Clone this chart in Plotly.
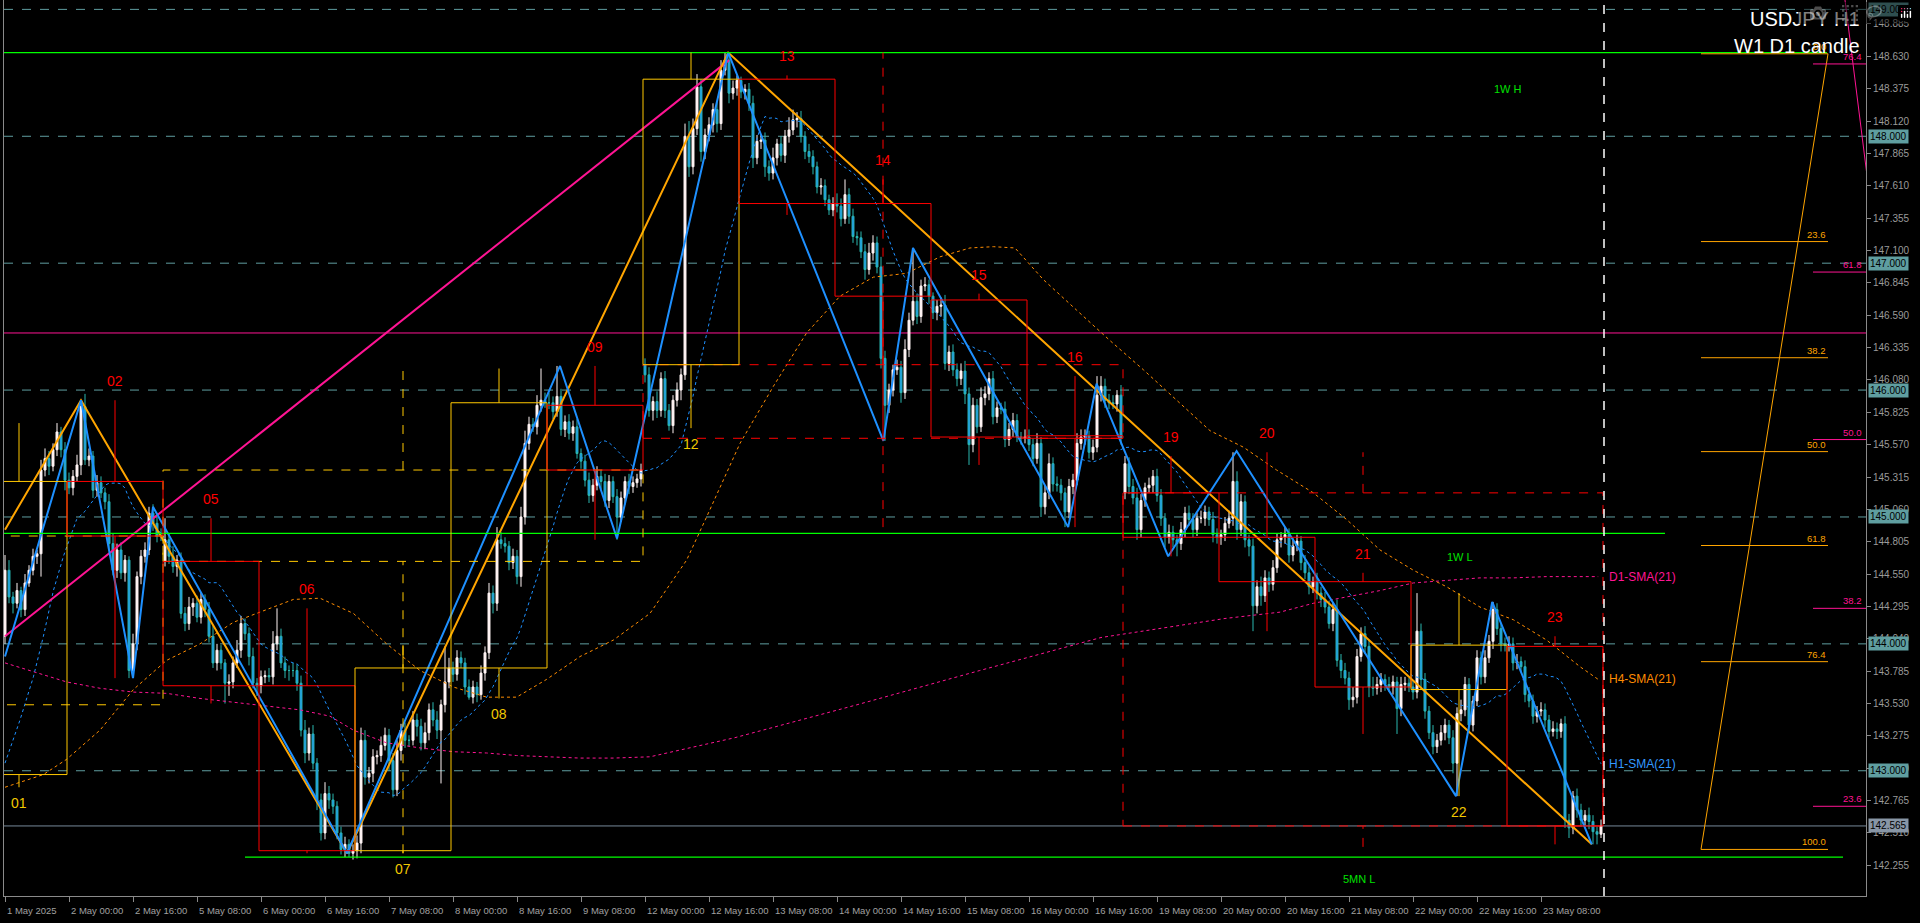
import plotly.graph_objects as go
import numpy as np
import pandas as pd

# ---------------- DATA ----------------
first_open = 144.06
week_gap_opens = {40: 144.65, 160: 146.20, 280: 145.19}

# hourly closes, one list per trading day (1 May starts at 08:00)
c_0501 = [144.58,144.37,144.32,144.42,144.27,144.48,144.58,144.69,144.71,145.37,145.46,145.40,145.53,145.67,145.53,145.29]
c_0502 = [145.23,145.32,145.41,145.87,145.45,145.48,145.21,145.27,145.19,145.12,144.79,144.58,144.74,144.56,144.66,143.79,144.00,144.53,144.69,144.74,145.03,144.95,144.85,144.85]
c_0505 = [144.82,144.69,144.61,144.66,144.24,144.16,144.29,144.32,144.21,144.35,144.27,144.06,143.85,143.95,143.85,143.69,143.70,143.85,143.95,144.16,144.08,143.90,143.69,143.67]
c_0506 = [143.74,143.75,143.74,144.00,144.06,143.85,143.79,143.79,143.79,143.69,143.32,143.14,143.29,143.06,142.77,142.51,142.82,142.77,142.72,142.51,142.38,142.42,142.35,142.37]
c_0507 = [142.43,143.24,142.95,142.98,143.11,143.12,143.20,143.28,143.08,142.85,143.16,143.32,143.24,143.24,143.40,143.35,143.22,143.30,143.48,143.40,143.32,143.52,143.70,143.81]
c_0508 = [143.76,143.89,143.85,143.66,143.58,143.66,143.60,143.77,143.93,144.40,144.32,144.82,144.79,144.77,144.64,144.69,144.53,145.00,145.58,145.73,145.71,145.88,145.92,145.90]
c_0509 = [145.90,145.83,145.95,145.69,145.75,145.66,145.71,145.50,145.44,145.29,145.17,145.25,145.32,145.28,145.13,145.28,145.16,145.00,145.15,145.28,145.24,145.27,145.30,145.37]
c_0512 = [146.12,145.84,145.91,145.84,146.09,145.84,145.72,145.92,146.00,146.12,148.00,147.76,148.06,148.39,147.88,148.01,148.09,148.21,148.10,148.52,148.60,148.34,148.38,148.44]
c_0513 = [148.35,148.37,148.26,147.83,147.96,147.97,147.76,147.71,147.83,147.94,147.85,148.00,148.05,148.13,148.14,148.00,147.88,147.84,147.76,147.60,147.61,147.50,147.42,147.47]
c_0514 = [147.45,147.35,147.54,147.37,147.21,147.20,147.09,146.95,147.08,147.16,146.97,146.25,145.88,146.00,146.16,146.18,145.98,146.32,146.55,146.70,146.58,146.82,146.83,146.74]
c_0515 = [146.61,146.66,146.67,146.21,146.30,146.16,146.09,146.15,145.97,145.57,145.88,145.71,145.94,145.97,146.09,145.79,145.86,145.85,145.61,145.69,145.76,145.63,145.62,145.63]
c_0516 = [145.57,145.46,145.58,145.08,145.19,145.42,145.26,145.25,145.19,145.04,145.24,145.29,145.58,145.63,145.64,145.51,145.55,145.96,146.03,145.92,145.90,145.89,145.96,145.62]
c_0519 = [145.42,145.24,145.15,144.90,145.13,145.23,145.25,145.32,145.17,144.99,144.84,144.88,144.82,144.79,144.90,145.03,144.98,144.90,144.99,144.99,145.04,144.98,144.86,144.84]
c_0520 = [144.86,144.95,144.99,145.28,144.90,145.12,144.82,144.77,144.30,144.45,144.38,144.52,144.47,144.60,144.82,144.84,144.86,144.70,144.77,144.81,144.64,144.56,144.45,144.49]
c_0521 = [144.40,144.35,144.29,144.16,144.27,143.87,143.79,143.73,143.56,143.58,143.90,144.08,143.98,143.66,143.65,143.68,143.72,143.68,143.66,143.70,143.49,143.68,143.69,143.66]
c_0522 = [143.62,144.10,143.72,143.47,143.30,143.19,143.24,143.30,143.36,143.26,143.06,143.45,143.48,143.68,143.36,143.55,143.89,143.74,143.89,144.02,144.27,144.12,144.00,143.99]
c_0523 = [144.00,143.85,143.86,143.82,143.60,143.55,143.43,143.47,143.48,143.40,143.31,143.33,143.31,143.37,142.61,142.55,142.80,142.69,142.61,142.65,142.60,142.52,142.50,142.565]

# upper / lower wick lengths in pips (0.01), per day
u_days = [
 [12,8,4,6,3,7,4,6,3,8,8,6,5,7,4,6],
 [6,5,8,5,10,6,4,6,5,4,6,8,5,6,4,3,8,4,5,6,5,7,5,6],
 [17,5,8,4,6,5,8,4,6,5,4,6,8,5,4,3,6,5,8,6,4,5,7,4],
 [5,4,6,10,22,6,5,4,6,5,6,8,5,7,4,5,9,6,5,4,5,6,4,5],
 [6,10,8,5,6,4,7,6,5,6,8,5,6,4,7,5,6,8,5,6,7,4,28,8],
 [5,6,5,4,6,5,4,6,5,8,6,10,6,5,4,6,5,8,10,6,5,8,25,6],
 [8,5,24,6,5,6,5,6,4,5,6,5,8,5,6,5,4,6,5,4,6,5,4,5],
 [5,6,4,8,5,6,5,4,6,5,10,12,8,10,6,5,6,5,7,8,6,5,6,4],
 [3,4,5,6,5,4,6,5,8,4,6,5,10,8,5,6,4,6,5,4,6,5,4,5],
 [8,6,12,5,6,4,5,6,8,6,5,8,6,5,4,6,5,8,6,42,6,5,6,4],
 [3,5,6,8,5,6,5,6,8,5,6,5,8,6,5,6,5,4,6,5,6,5,4,6],
 [6,5,8,5,6,8,5,6,5,4,6,5,8,6,5,4,6,15,8,6,5,6,4,8],
 [6,5,6,8,5,4,6,5,6,5,4,6,5,4,6,5,6,5,4,6,5,4,6,5],
 [4,5,6,23,8,6,5,4,6,5,8,6,5,6,5,4,6,5,6,5,4,6,5,4],
 [7,5,6,5,6,8,5,6,5,8,6,5,6,5,8,6,5,4,6,5,4,6,5,4],
 [5,30,6,5,4,6,5,6,5,4,6,5,8,6,5,4,6,5,6,5,6,5,4,5],
 [6,5,6,4,5,6,5,4,6,5,4,6,5,4,6,5,4,6,5,4,6,5,4,5],
]
d_days = [
 [6,5,8,4,6,5,3,4,6,18,5,7,4,5,6,8],
 [5,6,4,8,4,5,6,5,4,6,5,4,6,5,7,6,4,5,6,5,4,6,5,4],
 [4,6,5,8,4,6,5,7,4,5,6,5,4,6,5,16,10,5,4,6,5,7,4,8],
 [6,5,4,6,5,4,6,8,5,6,5,8,6,5,8,6,5,7,6,5,4,6,3,5],
 [6,8,6,5,7,6,5,4,8,6,5,8,6,5,4,8,6,5,6,5,7,42,6,5],
 [6,5,4,6,2,5,6,4,6,5,8,6,4,5,6,5,6,8,6,5,4,6,5,4],
 [5,6,4,5,6,5,6,4,6,5,6,5,4,6,5,6,5,18,4,5,6,5,4,6],
 [6,5,8,6,5,6,4,6,5,8,4,8,6,5,8,6,5,6,7,5,4,8,5,6],
 [5,6,6,8,5,6,8,6,5,6,5,6,5,4,6,5,6,5,6,5,6,5,4,5],
 [5,6,4,6,5,6,5,8,4,6,5,8,28,6,5,4,8,5,6,4,6,5,4,6],
 [5,6,8,5,6,5,6,5,8,16,6,5,4,6,5,6,5,4,6,5,6,4,5,4],
 [5,6,4,8,6,5,6,5,6,12,5,6,4,5,6,5,6,4,5,6,5,4,6,5],
 [5,6,5,8,6,5,4,6,5,6,8,5,6,10,5,6,5,6,5,4,6,5,6,5],
 [6,5,4,6,8,5,6,8,20,6,8,5,6,5,4,6,5,6,5,4,6,5,6,5],
 [5,6,5,4,6,5,6,5,8,6,5,4,6,8,6,5,6,5,4,6,20,6,5,4],
 [6,5,8,6,5,6,5,4,6,5,8,26,6,5,6,5,4,6,5,4,6,5,6,5],
 [5,6,5,4,6,5,6,5,4,6,5,4,6,5,6,8,5,6,5,4,6,10,8,3],
]

time_labels = ["1 May 2025","2 May 00:00","2 May 16:00","5 May 08:00","6 May 00:00","6 May 16:00",
               "7 May 08:00","8 May 00:00","8 May 16:00","9 May 08:00","12 May 00:00","12 May 16:00",
               "13 May 08:00","14 May 00:00","14 May 16:00","15 May 08:00","16 May 00:00","16 May 16:00",
               "19 May 08:00","20 May 00:00","20 May 16:00","21 May 08:00","22 May 00:00","22 May 16:00",
               "23 May 08:00"]
price_ticks = ["142.255","142.510","142.765","143.020","143.275","143.530","143.785","144.040","144.295",
               "144.550","144.805","145.060","145.315","145.570","145.825","146.080","146.335","146.590",
               "146.845","147.100","147.355","147.610","147.865","148.120","148.375","148.630","148.885"]
round_levels = [142.0,143.0,144.0,145.0,146.0,147.0,148.0,149.0]
bid_price = 142.565

# D1 candles (box indicator)
d1_names = ["01","02","05","06","07","08","09","12","13","14","15","16","19","20","21","22","23"]
d1_start = [-8,16,40,64,88,112,136,160,184,208,232,256,280,304,328,352,376]
d1_open  = [142.97,145.28,144.65,143.67,142.37,143.81,145.88,146.20,148.45,147.47,146.71,145.64,145.19,144.84,144.49,143.64,143.98]
d1_high  = [145.74,145.92,144.99,144.28,143.99,146.17,146.19,148.66,148.48,147.66,146.76,146.11,145.48,145.51,144.56,144.40,144.06]
d1_low   = [142.87,143.73,143.53,142.35,142.35,143.57,144.82,145.70,147.38,145.60,145.41,144.92,144.69,144.10,143.29,142.80,142.42]
d1_close = [145.28,144.85,143.67,142.37,143.81,145.90,145.37,148.45,147.47,146.74,145.63,145.62,144.84,144.49,143.66,143.99,142.565]

# W1 candles (dashed boxes)
w1_start = [-80,40,160,280]
w1_end   = [39,159,279,399]
w1_open  = [143.52,144.65,146.20,145.19]
w1_high  = [145.92,146.19,148.66,145.51]
w1_low   = [142.00,142.35,144.92,142.40]
w1_close = [144.85,145.37,145.62,142.565]

# zigzags
blue_zz_x = [0,19,32,37,85.5,138.75,153,180.8,219.6,227,265.8,272.9,290.8,307.9,362.75,371.8,396.7]
blue_zz_y = [143.90,145.92,143.73,145.08,142.35,146.19,144.83,148.66,145.60,147.12,144.92,146.05,144.69,145.52,142.80,144.33,142.42]
orange_zz_x = [0,19,85.5,180.8,396.7]
orange_zz_y = [144.90,145.92,142.35,148.66,142.42]
pink_line_x = [0,181]
pink_line_y = [144.06,148.60]

# moving averages
h1_lead_x = [0,3.75,7.1,9.6,12.1,14.6,17.9]
h1_lead_y = [143.06,143.40,143.74,144.06,144.42,144.69,144.98]
h4_x = [0,9.6,15.4,23.75,32.1,40.4,48.75,57.1,65.4,72.1,78.75,87.1,95.4,103.75,112.1,120.4,127.9,135.4,143.75,
        152.1,161.25,170.4,175.4,183.75,192.1,200.4,208.75,217.1,225.4,233.75,241.25,247.1,252.5,259.6,267.9,
        276.25,284.6,292.9,301.25,309.6,317.9,327.1,335.4,343.75,352.1,360.4,368.75,377.1,385.4,393.75,398.3]
h4_y = [142.87,142.97,143.09,143.32,143.64,143.87,144.00,144.17,144.27,144.35,144.36,144.24,144.00,143.79,143.66,
        143.58,143.58,143.72,143.90,144.03,144.24,144.66,145.00,145.58,146.03,146.45,146.74,146.89,146.92,147.05,
        147.12,147.13,147.12,146.87,146.63,146.39,146.16,145.92,145.68,145.55,145.37,145.19,144.98,144.74,144.58,
        144.45,144.29,144.19,144.03,143.82,143.72]
d1sma_x = [0,7.1,15.4,23.75,32.1,40.4,48.75,57.1,65.4,73.75,81.25,87.1,95.4,103.75,112.1,120.4,127.9,135.4,143.75,
           152.1,161.25,182.4,213,243.7,274,305,318.75,327.1,335.4,343.75,352.1,360.4,368.75,377.1,385.4,398.3]
d1sma_y = [143.85,143.78,143.70,143.65,143.62,143.61,143.57,143.54,143.51,143.48,143.43,143.32,143.22,143.18,143.15,
           143.14,143.12,143.11,143.10,143.10,143.11,143.26,143.52,143.79,144.05,144.20,144.25,144.32,144.37,144.42,
           144.48,144.50,144.52,144.52,144.53,144.53]

# horizontal key levels
lvl_1wh, lvl_1wl, lvl_5mnl, lvl_mag = 148.66, 144.87, 142.32, 146.45

# Fibonacci objects on the right
fib_o_x = [424, 455.75]
fib_o_low, fib_o_high = 142.38, 148.65
fib_levels = [0.0, 23.6, 38.2, 50.0, 61.8, 76.4, 100.0]
fib_p_x = [452, 465.25]
fib_p_names = ["23.6","38.2","50.0","61.8","76.4"]
fib_p_prices = [142.72,144.28,145.61,146.93,148.57]
fib_p_diag_x = [455.0, 470.0]
fib_p_diag_y = [150.33, 146.56]
now_bar = 399.75

# ---------------- BUILD ----------------
day_closes = [c_0501,c_0502,c_0505,c_0506,c_0507,c_0508,c_0509,c_0512,c_0513,c_0514,c_0515,c_0516,
              c_0519,c_0520,c_0521,c_0522,c_0523]
closes = [c for d in day_closes for c in d]
ups = [u for d in u_days for u in d]
dns = [v for d in d_days for v in d]
n = len(closes)
bars = list(range(n))
opens = []
prev = first_open
for i, c in enumerate(closes):
    opens.append(week_gap_opens.get(i, prev))
    prev = c
highs = [max(o, c) + u / 100 for o, c, u in zip(opens, closes, ups)]
lows = [min(o, c) - d / 100 for o, c, d in zip(opens, closes, dns)]

sma = pd.Series(closes).rolling(21).mean()
h1_x = h1_lead_x + bars[20:]
h1_y = h1_lead_y + list(sma.values[20:])

SMALL = "Liberation Sans, Arial, sans-serif"
SANS = "Liberation Sans, Arial, sans-serif"
SMALL_SIZE = 9.5
AXIS_SIZE = 10
RED = "#ff0000"
GOLD = "#ffc800"
GREEN = "#00ff00"

fig = go.Figure()

fig.add_trace(go.Candlestick(
    x=bars, open=opens, high=highs, low=lows, close=closes,
    increasing=dict(line=dict(color="#fff4f4", width=1), fillcolor="#fff4f4"),
    decreasing=dict(line=dict(color="#2ab8b0", width=1), fillcolor="#1e90ff"),
    whiskerwidth=0, showlegend=False, hoverinfo="skip"))

fig.add_trace(go.Scatter(x=d1sma_x, y=d1sma_y, mode="lines", line=dict(color="#ff1493", width=1, dash="dot"),
                         showlegend=False, hoverinfo="skip"))
fig.add_trace(go.Scatter(x=h4_x, y=h4_y, mode="lines", line=dict(color="#ff8c00", width=1, dash="dot"),
                         showlegend=False, hoverinfo="skip"))
fig.add_trace(go.Scatter(x=h1_x, y=h1_y, mode="lines", line=dict(color="#1e90ff", width=1, dash="dot"),
                         showlegend=False, hoverinfo="skip"))

fig.add_trace(go.Scatter(x=pink_line_x, y=pink_line_y, mode="lines", line=dict(color="#ff1493", width=2),
                         showlegend=False, hoverinfo="skip"))
fig.add_trace(go.Scatter(x=orange_zz_x, y=orange_zz_y, mode="lines", line=dict(color="#ffa500", width=2),
                         showlegend=False, hoverinfo="skip"))
fig.add_trace(go.Scatter(x=blue_zz_x, y=blue_zz_y, mode="lines", line=dict(color="#1e90ff", width=2),
                         showlegend=False, hoverinfo="skip"))

# fib diagonals
fig.add_trace(go.Scatter(x=fib_o_x, y=[fib_o_low, fib_o_high], mode="lines", line=dict(color="#ffa500", width=1),
                         showlegend=False, hoverinfo="skip"))
fig.add_trace(go.Scatter(x=fib_p_diag_x, y=fib_p_diag_y, mode="lines", line=dict(color="#ff1493", width=1),
                         showlegend=False, hoverinfo="skip"))

shapes = []
ann = []

def hline(y, x0, x1, color, width=1, dash="solid", layer="below"):
    shapes.append(dict(type="line", xref="x", yref="y", x0=x0, x1=x1, y0=y, y1=y,
                       line=dict(color=color, width=width, dash=dash), layer=layer))

def vline(x, y0, y1, color, width=1, dash="solid", layer="above"):
    shapes.append(dict(type="line", xref="x", yref="y", x0=x, x1=x, y0=y0, y1=y1,
                       line=dict(color=color, width=width, dash=dash), layer=layer))

# round-number dashed lines
for lv in round_levels:
    shapes.append(dict(type="line", xref="paper", yref="y", x0=0, x1=1, y0=lv, y1=lv,
                       line=dict(color="#5f9ea0", width=1, dash="dash"), layer="below"))
# bid line, magenta line
shapes.append(dict(type="line", xref="paper", yref="y", x0=0, x1=1, y0=bid_price, y1=bid_price,
                   line=dict(color="#778899", width=1), layer="below"))
shapes.append(dict(type="line", xref="paper", yref="y", x0=0, x1=1, y0=lvl_mag, y1=lvl_mag,
                   line=dict(color="#ff1493", width=1), layer="below"))
# green key levels
hline(lvl_1wh, -1, 455.5, GREEN, 1.2, layer="above")
hline(lvl_1wl, -1, 415, GREEN, 1.2, layer="above")
hline(lvl_5mnl, 60, 459.5, GREEN, 1.2, layer="above")

# weekly dashed boxes
for s, e, o, h, l, c in zip(w1_start, w1_end, w1_open, w1_high, w1_low, w1_close):
    col = GOLD if c >= o else RED
    x0, x1 = s - 0.5, e + 0.5
    xm = (x0 + x1) / 2
    shapes.append(dict(type="rect", xref="x", yref="y", x0=x0, x1=x1, y0=min(o, c), y1=max(o, c),
                       line=dict(color=col, width=1, dash="dash"), layer="above"))
    vline(xm, max(o, c), h, col, 1, "dash")
    vline(xm, l, min(o, c), col, 1, "dash")

# daily boxes + labels
for name, s, o, h, l, c in zip(d1_names, d1_start, d1_open, d1_high, d1_low, d1_close):
    col = GOLD if c >= o else RED
    x0, x1 = s - 0.5, s + 23.5
    xm = (x0 + x1) / 2
    shapes.append(dict(type="rect", xref="x", yref="y", x0=x0, x1=x1, y0=min(o, c), y1=max(o, c),
                       line=dict(color=col, width=1), layer="above"))
    vline(xm, max(o, c), h, col, 1)
    vline(xm, l, min(o, c), col, 1)
    if c >= o:
        ann.append(dict(x=xm, y=l, xref="x", yref="y", text=name, showarrow=False, yanchor="middle",
                        yshift=-16, font=dict(family=SANS, size=14, color="#f0c800")))
    else:
        ann.append(dict(x=xm, y=h, xref="x", yref="y", text=name, showarrow=False, yanchor="middle",
                        yshift=19, font=dict(family=SANS, size=14, color=RED)))

# orange fib levels
for lv in fib_levels:
    p = fib_o_high - (fib_o_high - fib_o_low) * lv / 100
    hline(p, fib_o_x[0], fib_o_x[1], "#ffa500", 1, layer="above")
    ann.append(dict(x=fib_o_x[1], y=p, xref="x", yref="y", text=f"{lv:.1f}", showarrow=False,
                    xanchor="right", yanchor="bottom", yshift=0,
                    font=dict(family=SMALL, size=SMALL_SIZE, color="#ffa500")))
# pink fib levels
for nm, p in zip(fib_p_names, fib_p_prices):
    hline(p, fib_p_x[0], fib_p_x[1], "#ff1493", 1, layer="above")
    ann.append(dict(x=fib_p_x[1], y=p, xref="x", yref="y", text=nm, showarrow=False,
                    xanchor="right", yanchor="bottom", xshift=-2,
                    font=dict(family=SMALL, size=SMALL_SIZE, color="#ff1493")))

# current time dashed vertical
shapes.append(dict(type="line", xref="x", yref="paper", x0=now_bar, x1=now_bar, y0=0, y1=1,
                   line=dict(color="#ffffff", width=1.5, dash="dash"), layer="above"))

# key level labels
ann.append(dict(x=375.75, y=lvl_1wh, xref="x", yref="y", text="1W H", showarrow=False, yshift=-36,
                font=dict(family=SANS, size=11, color="#00e000")))
ann.append(dict(x=363.75, y=lvl_1wl, xref="x", yref="y", text="1W L", showarrow=False, yshift=-24,
                font=dict(family=SANS, size=11, color="#00e000")))
ann.append(dict(x=338.5, y=lvl_5mnl, xref="x", yref="y", text="5MN L", showarrow=False, yshift=-22,
                font=dict(family=SANS, size=11, color="#00e000")))

# SMA labels at the last value of each average
ann.append(dict(x=400.5, y=d1sma_y[-1], xref="x", yref="y", text="D1-SMA(21)", showarrow=False,
                xanchor="left", font=dict(family=SANS, size=12, color="#ff1493")))
ann.append(dict(x=400.5, y=h4_y[-1], xref="x", yref="y", text="H4-SMA(21)", showarrow=False,
                xanchor="left", font=dict(family=SANS, size=12, color="#ff8c00")))
ann.append(dict(x=400.5, y=h1_y[-1], xref="x", yref="y", text="H1-SMA(21)", showarrow=False,
                xanchor="left", font=dict(family=SANS, size=12, color="#3399ff")))

# title
ann.append(dict(x=1, y=1, xref="paper", yref="paper", text="USDJPY H1", showarrow=False, xanchor="right",
                yanchor="middle", xshift=-4, yshift=-19, font=dict(family=SANS, size=20, color="#ffffff")))
ann.append(dict(x=1, y=1, xref="paper", yref="paper", text="W1 D1 candle", showarrow=False, xanchor="right",
                yanchor="middle", xshift=-4, yshift=-46, font=dict(family=SANS, size=20, color="#ffffff")))

# right-axis price boxes
for lv in round_levels:
    ann.append(dict(x=1, y=lv, xref="paper", yref="y", text=f"{lv:.3f}", showarrow=False, xanchor="left",
                    yanchor="middle", xshift=2, bgcolor="#5f9ea0", borderpad=1,
                    font=dict(family=SMALL, size=AXIS_SIZE, color="#000000")))
ann.append(dict(x=1, y=bid_price, xref="paper", yref="y", text=f"{bid_price:.3f}", showarrow=False,
                xanchor="left", yanchor="middle", xshift=2, bgcolor="#8896a6", borderpad=1,
                font=dict(family=SMALL, size=AXIS_SIZE, color="#000000")))

# time-axis labels (left aligned at tick)
time_tick_bars = [16 * k for k in range(len(time_labels))]
for b, t in zip(time_tick_bars, time_labels):
    ann.append(dict(x=b, y=0, xref="x", yref="paper", text=t, showarrow=False, xanchor="left",
                    yanchor="middle", xshift=0, yshift=-14,
                    font=dict(family=SMALL, size=SMALL_SIZE, color="#a0a0a0")))

fig.update_layout(
    width=1920, height=923, autosize=False,
    margin=dict(l=4, r=54, t=0, b=27),
    paper_bgcolor="#000000", plot_bgcolor="#000000",
    showlegend=False, shapes=shapes, annotations=ann, hovermode=False,
    xaxis=dict(range=[-0.25, 465.25], showgrid=False, zeroline=False, rangeslider=dict(visible=False),
               tickvals=time_tick_bars, ticks="outside", ticklen=5, tickcolor="#8a8a8a",
               showticklabels=False, showline=True, linecolor="#8a8a8a", mirror=True, fixedrange=True),
    yaxis=dict(range=[142.013, 149.074], side="right", showgrid=False, zeroline=False,
               tickvals=[float(t) for t in price_ticks], ticktext=price_ticks, ticks="outside",
               ticklen=4, tickcolor="#8a8a8a", showline=True, linecolor="#8a8a8a", mirror=True,
               tickfont=dict(family=SMALL, size=AXIS_SIZE, color="#9a9a9a"), fixedrange=True),
)

fig.write_html("out.html", post_script="document.body.style.margin='0';document.body.style.overflow='hidden';")
